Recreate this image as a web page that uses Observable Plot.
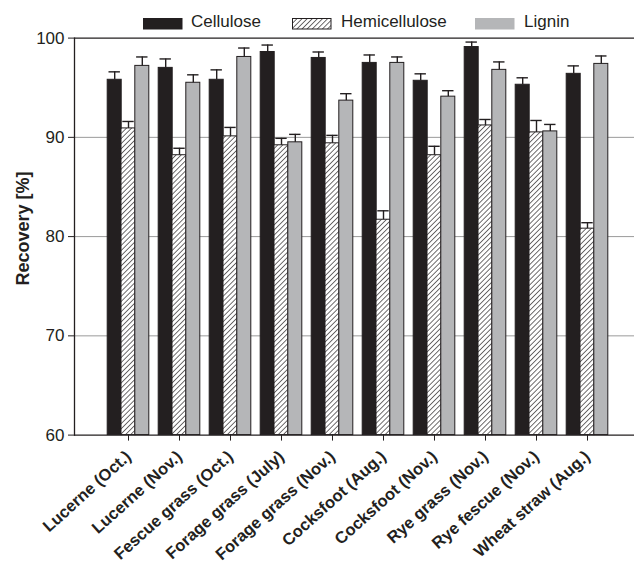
<!DOCTYPE html>
<html>
<head>
<meta charset="utf-8">
<script src="https://cdn.jsdelivr.net/npm/d3@7"></script>
<script src="https://cdn.jsdelivr.net/npm/@observablehq/plot@0.6"></script>
<style>
  html, body { margin: 0; padding: 0; background: #fff; }
  body { width: 634px; height: 566px; overflow: hidden; font-family: "Liberation Sans", Arial, sans-serif; color: #231f20; }
  #legend { position: relative; height: 30px; width: 634px; }
  .item { position: absolute; top: 0; height: 30px; }
  .item svg { position: absolute; top: 18px; left: 0; }
  .item span { position: absolute; top: 13px; font-size: 17px; line-height: 17px; white-space: nowrap; }
</style>
</head>
<body>
<div id="legend"></div>
<div id="chart"></div>
<script>
// ---- data ----
const categories = [
  "Lucerne (Oct.)", "Lucerne (Nov.)", "Fescue grass (Oct.)", "Forage grass (July)",
  "Forage grass (Nov.)", "Cocksfoot (Aug.)", "Cocksfoot (Nov.)", "Rye grass (Nov.)",
  "Rye fescue (Nov.)", "Wheat straw (Aug.)"
];
const seriesNames = ["Cellulose", "Hemicellulose", "Lignin"];
const cellulose        = [95.8, 97.0, 95.8, 98.6, 98.0, 97.5, 95.7, 99.1, 95.3, 96.4];
const celluloseErr     = [0.8, 0.9, 1.0, 0.7, 0.6, 0.8, 0.7, 0.5, 0.7, 0.8];
const hemicellulose    = [90.9, 88.2, 90.1, 89.2, 89.4, 81.7, 88.2, 91.2, 90.5, 80.8];
const hemicelluloseErr = [0.7, 0.7, 0.9, 0.7, 0.8, 0.9, 0.9, 0.6, 1.2, 0.6];
const lignin           = [97.2, 95.5, 98.1, 89.5, 93.7, 97.5, 94.1, 96.8, 90.6, 97.4];
const ligninErr        = [0.9, 0.8, 0.9, 0.8, 0.7, 0.6, 0.6, 0.8, 0.7, 0.8];
const yTicks = [60, 70, 80, 90, 100];
const yGrid = [70, 80, 90];
const yLabel = "Recovery [%]";

// ---- styling ----
const ink = "#231f20";
const fills = [ink, "url(#hatch)", "#b5b6b8"];
const bw = 13.8;              // width of one bar (px)
const offsets = [-bw, 0, bw]; // horizontal offset of each series within a group

const valuesBySeries = [cellulose, hemicellulose, lignin];
const errBySeries = [celluloseErr, hemicelluloseErr, ligninErr];
const tables = seriesNames.map((s, k) =>
  categories.map((c, i) => ({category: c, series: s, value: valuesBySeries[k][i], err: errBySeries[k][i]}))
);

// ---- legend ----
const legendPos = [[142.7, 191], [292.3, 341], [475, 524]];
const legend = document.getElementById("legend");
seriesNames.forEach((s, k) => {
  const item = document.createElement("div");
  item.className = "item";
  item.style.left = legendPos[k][0] + "px";
  const fill = k === 1 ? "url(#hatchL)" : fills[k];
  item.innerHTML =
    `<svg width="40" height="12">` +
    (k === 1 ? `<defs><pattern id="hatchL" patternUnits="userSpaceOnUse" width="3.6" height="3.6" patternTransform="rotate(45)"><rect width="3.6" height="3.6" fill="#fff"/><line x1="0" y1="0" x2="0" y2="3.6" stroke="${ink}" stroke-width="1.3"/></pattern></defs>` : "") +
    `<rect x="0.5" y="0.5" width="38.5" height="10.5" fill="${fill}" stroke="${k === 2 ? "#b5b6b8" : ink}" stroke-width="1"/></svg>` +
    `<span style="left:${legendPos[k][1] - legendPos[k][0]}px">${s}</span>`;
  legend.appendChild(item);
});

// ---- chart ----
const yMin = yTicks[0];
const marks = [
  Plot.ruleY(yGrid, {stroke: "#9a9a9a", strokeWidth: 1})
];
tables.forEach((rows, k) => {
  marks.push(
    Plot.barY(rows, {x: "category", y1: yMin, y2: "value", fill: fills[k], stroke: ink, strokeWidth: 1, dx: offsets[k]}),
    Plot.ruleX(rows, {x: "category", y1: "value", y2: d => d.value + d.err, stroke: ink, strokeWidth: 1.4, dx: offsets[k]}),
    Plot.tickY(rows, {x: "category", y: d => d.value + d.err, stroke: ink, strokeWidth: 1.4, dx: offsets[k], insetLeft: 1.3, insetRight: 1.3})
  );
});
marks.push(
  Plot.ruleY([yTicks[0]], {stroke: ink, strokeWidth: 1.3}),
  Plot.ruleY([yTicks[yTicks.length - 1]], {stroke: ink, strokeWidth: 1.3}),
  Plot.frame({anchor: "left", stroke: ink, strokeWidth: 1.3}),
  Plot.axisY({ticks: yTicks, tickSize: 6, tickPadding: 4, fontSize: 17, label: null, stroke: ink, fill: ink}),
  Plot.axisX({tickRotate: -42, tickSize: 6, tickPadding: 13, fontSize: 16.5, fontWeight: "bold", label: null, stroke: ink, fill: ink}),
  Plot.text([yLabel], {text: d => d, frameAnchor: "left", textAnchor: "middle", lineAnchor: "middle", rotate: -90, dx: -51, dy: -8, fontSize: 18, fontWeight: "bold", fill: ink})
);

const svg = Plot.plot({
  width: 634,
  height: 536,
  marginTop: 7.6,
  marginBottom: 131.4,
  marginLeft: 74,
  marginRight: 0,
  style: {fontFamily: "'Liberation Sans', Arial, sans-serif", color: ink, background: "#fff", overflow: "visible"},
  x: {type: "band", domain: categories, range: [100, 614], paddingInner: 0.7315, paddingOuter: 0.366, align: 0.5},
  y: {domain: [yTicks[0], yTicks[yTicks.length - 1]]},
  marks
});

// hatch pattern for the hemicellulose bars
const defs = d3.select(svg).insert("defs", ":first-child");
const pat = defs.append("pattern")
  .attr("id", "hatch").attr("patternUnits", "userSpaceOnUse")
  .attr("width", 3.6).attr("height", 3.6).attr("patternTransform", "rotate(45)");
pat.append("rect").attr("width", 3.6).attr("height", 3.6).attr("fill", "#fff");
pat.append("line").attr("x1", 0).attr("y1", 0).attr("x2", 0).attr("y2", 3.6)
  .attr("stroke", ink).attr("stroke-width", 1.3);

document.getElementById("chart").appendChild(svg);
</script>
</body>
</html>
